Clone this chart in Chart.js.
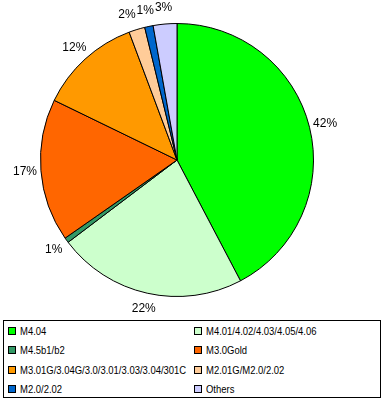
<!DOCTYPE html>
<html>
<head>
<meta charset="utf-8">
<script src="https://cdn.jsdelivr.net/npm/chart.js@4/dist/chart.umd.min.js"></script>
<style>
html,body{margin:0;padding:0;background:#fff;}
#wrap{position:relative;width:383px;height:403px;overflow:hidden;}
#c{position:absolute;left:0;top:0;}
#legend{position:absolute;left:3px;top:320px;width:376px;height:76px;border:1px solid #000;font-family:"Liberation Sans",Arial,sans-serif;font-size:11px;color:#000;}
.item{position:absolute;height:14px;line-height:14px;white-space:nowrap;}
.sw{position:absolute;left:0;top:3px;width:6px;height:6px;border:1px solid #000;}
.tx{position:absolute;left:12px;top:0;transform-origin:0 50%;transform:scaleX(0.86);}
</style>
</head>
<body>
<div id="wrap">
<canvas id="c" width="383" height="315"></canvas>
<div id="legend"></div>
</div>
<script>
const categories = ["M4.04","M4.01/4.02/4.03/4.05/4.06","M4.5b1/b2","M3.0Gold","M3.01G/3.04G/3.0/3.01/3.03/3.04/301C","M2.01G/M2.0/2.02","M2.0/2.02","Others"];
const shares = [42.3, 22.4, 0.6, 16.9, 12.1, 1.9, 1.0, 2.8];
const colors = ["#00ff00","#ccffcc","#339966","#ff6600","#ff9900","#ffcc99","#0066cc","#ccccff"];

// legend (HTML, two columns)
const leg = document.getElementById('legend');
categories.forEach((name, i) => {
  const col = i % 2, row = Math.floor(i / 2);
  const d = document.createElement('div');
  d.className = 'item';
  d.style.left = (col === 0 ? 4 : 190) + 'px';
  d.style.top = (3 + row * 19.3) + 'px';
  d.innerHTML = '<span class="sw" style="background:' + colors[i] + '"></span><span class="tx"></span>';
  d.querySelector('.tx').textContent = name;
  leg.appendChild(d);
});

const labelPlugin = {
  id: 'outLabels',
  afterDatasetsDraw(chart) {
    const ctx = chart.ctx;
    const meta = chart.getDatasetMeta(0);
    const total = shares.reduce((a, b) => a + b, 0);
    ctx.save();
    ctx.font = '12px "Liberation Sans", Arial, sans-serif';
    ctx.fillStyle = '#000';
    ctx.textAlign = 'center';
    ctx.textBaseline = 'middle';
    const labs = meta.data.map((arc, i) => {
      const p = arc.getProps(['x','y','startAngle','endAngle','outerRadius'], true);
      const mid = (p.startAngle + p.endAngle) / 2;
      const r = p.outerRadius + 16;
      const t = Math.round(shares[i] / total * 100) + '%';
      return { t, x: p.x + Math.cos(mid) * r, y: p.y + Math.sin(mid) * r, w: ctx.measureText(t).width };
    });
    // simple overlap avoidance: process labels right-to-left, push overlapping ones left
    const order = labs.slice().sort((a, b) => b.x - a.x);
    for (let k = 1; k < order.length; k++) {
      for (let j = 0; j < k; j++) {
        const a = order[j], b = order[k];
        if (Math.abs(a.y - b.y) < 12) {
          const minDx = (a.w + b.w) / 2 + 1;
          if (a.x - b.x < minDx) b.x = a.x - minDx;
        }
      }
    }
    labs.forEach(l => ctx.fillText(l.t, l.x, l.y));
    ctx.restore();
  }
};

new Chart(document.getElementById('c'), {
  type: 'pie',
  data: {
    labels: categories,
    datasets: [{
      data: shares,
      backgroundColor: colors,
      borderColor: '#000',
      borderWidth: 1
    }]
  },
  options: {
    responsive: false,
    animation: false,
    layout: { padding: { left: 40, right: 69, top: 23, bottom: 18 } },
    plugins: { legend: { display: false }, tooltip: { enabled: false } }
  },
  plugins: [labelPlugin]
});
</script>
</body>
</html>
